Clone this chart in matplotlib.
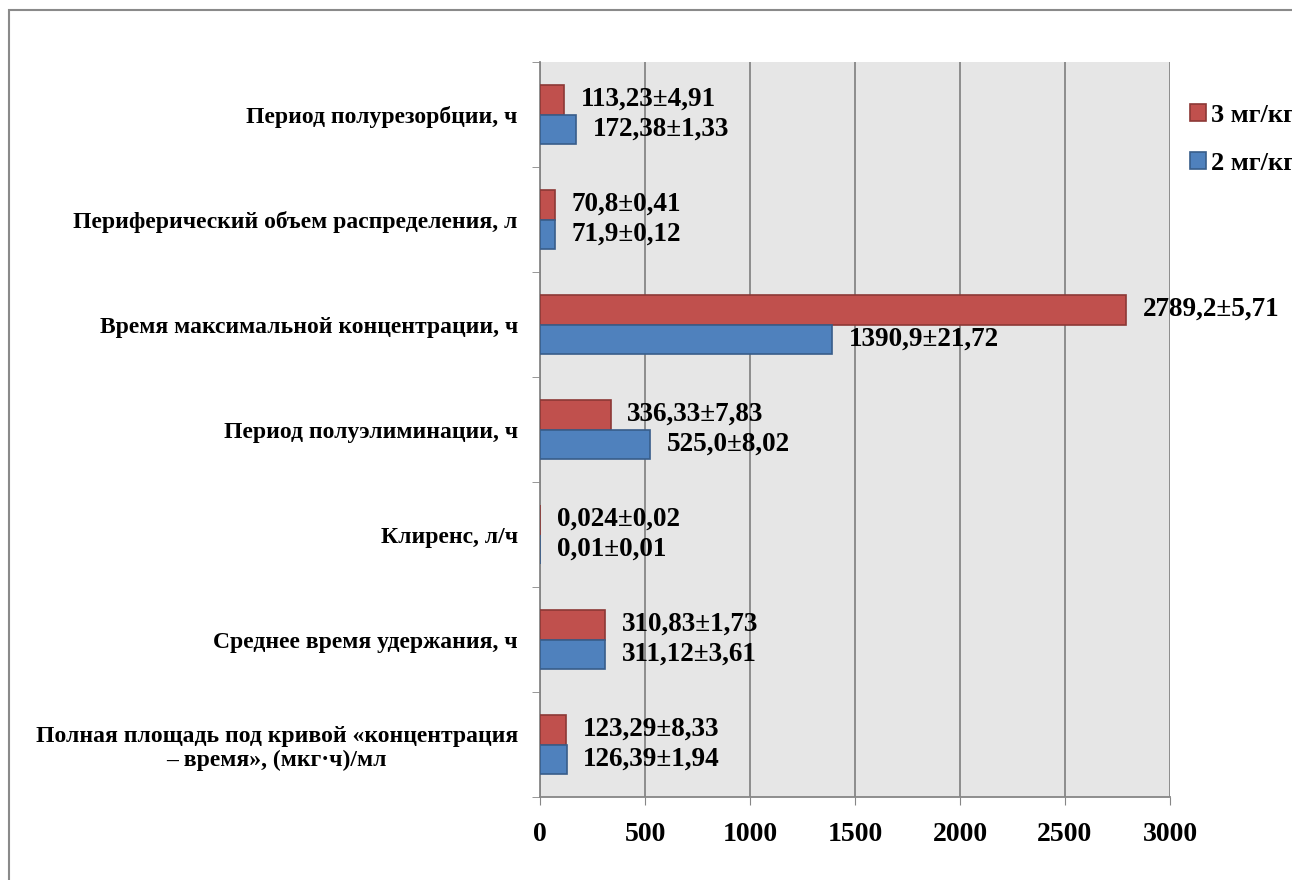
import matplotlib.pyplot as plt
from matplotlib.patches import Rectangle, Patch

plt.rcParams['font.family'] = ['Liberation Serif', 'DejaVu Serif']
plt.rcParams['font.weight'] = 'bold'

categories = ['Период полурезорбции, ч',
              'Периферический объем распределения, л',
              'Время максимальной концентрации, ч',
              'Период полуэлиминации, ч',
              'Клиренс, л/ч',
              'Среднее время удержания, ч',
              'Полная площадь под кривой «концентрация\n– время», (мкг·ч)/мл']
dose3 = [113.23, 70.8, 2789.2, 336.33, 0.024, 310.83, 123.29]
dose2 = [172.38, 71.9, 1390.9, 525.0, 0.01, 311.12, 126.39]
labels3 = ['113,23±4,91', '70,8±0,41', '2789,2±5,71', '336,33±7,83',
           '0,024±0,02', '310,83±1,73', '123,29±8,33']
labels2 = ['172,38±1,33', '71,9±0,12', '1390,9±21,72', '525,0±8,02',
           '0,01±0,01', '311,12±3,61', '126,39±1,94']
series_names = ['3 мг/кг', '2 мг/кг']

red, red_edge = '#C0504D', '#8C3836'
blue, blue_edge = '#4F81BD', '#385D8A'

fig = plt.figure(figsize=(12.92, 8.8), dpi=100)
ax = fig.add_axes([540/1292, 1-797/880, 630/1292, 735/880])
ax.set_facecolor('#E6E6E6')

n = len(categories)
pos = list(range(n))
h = 0.285
ax.barh([p - h/2 for p in pos], dose3, height=h, color=red,
        edgecolor=red_edge, linewidth=1.2, zorder=3)
ax.barh([p + h/2 for p in pos], dose2, height=h, color=blue,
        edgecolor=blue_edge, linewidth=1.2, zorder=3)

for p, v, t in zip(pos, dose3, labels3):
    ax.annotate(t, (v, p - h/2), xytext=(12, 0), textcoords='offset points',
                va='center', ha='left', fontsize=19.5, fontweight='bold', zorder=4)
for p, v, t in zip(pos, dose2, labels2):
    ax.annotate(t, (v, p + h/2), xytext=(12, 0), textcoords='offset points',
                va='center', ha='left', fontsize=19.5, fontweight='bold', zorder=4)

ax.set_xlim(0, 3000)
ax.set_ylim(n - 0.5, -0.5)
ax.set_xticks(range(0, 3001, 500))
ax.set_xticklabels([str(t) for t in range(0, 3001, 500)], fontweight='bold')
ax.tick_params(axis='x', labelsize=20, length=6, color='#868686', pad=12)
ax.grid(axis='x', color='#868686', linewidth=1.3, zorder=1)

ax.set_yticks(pos)
ax.set_yticklabels(categories, fontsize=17, fontweight='bold',
                   multialignment='center')
ax.tick_params(axis='y', length=0, pad=16)
ax.set_yticks([p - 0.5 for p in range(n + 1)], minor=True)
ax.tick_params(axis='y', which='minor', length=6, color='#868686')

for s in ['top', 'right']:
    ax.spines[s].set_visible(False)
for s in ['left', 'bottom']:
    ax.spines[s].set_color('#868686')
    ax.spines[s].set_linewidth(1.3)

handles = [Patch(facecolor=red, edgecolor=red_edge, linewidth=1.2),
           Patch(facecolor=blue, edgecolor=blue_edge, linewidth=1.2)]
leg = fig.legend(handles, series_names, loc='upper left',
                 bbox_to_anchor=(1166/1292, 1-80/880), frameon=False,
                 prop={'size': 19, 'weight': 'bold'}, handlelength=0.6,
                 handleheight=0.6, handletextpad=0.2, labelspacing=0.95)

fig.patches.append(Rectangle((9/1292, -0.1), 1.2, 1.1 - 10/880, fill=False,
                             edgecolor='#8A8A8A', linewidth=1.5,
                             transform=fig.transFigure, figure=fig))

fig.savefig('out.png', dpi=100)
